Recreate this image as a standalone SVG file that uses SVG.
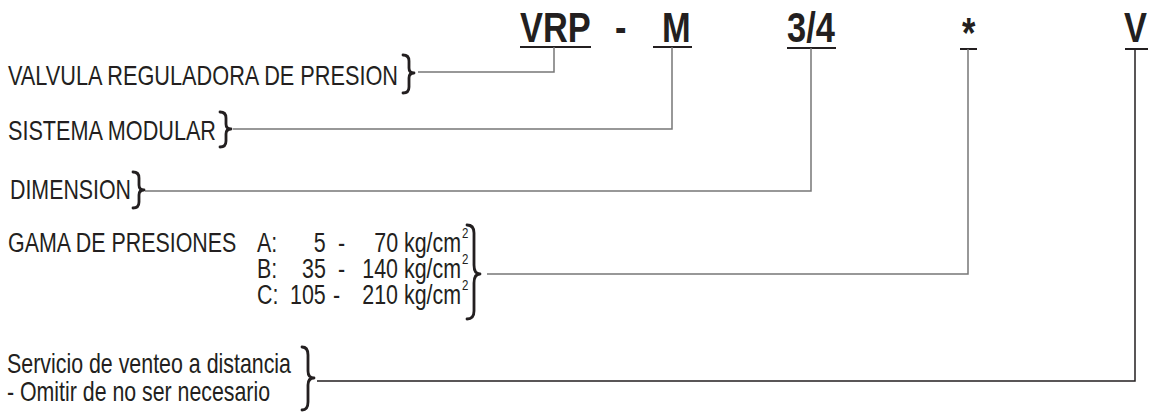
<svg xmlns="http://www.w3.org/2000/svg" width="1150" height="412" viewBox="0 0 1150 412">
<style>
.code{font-family:"Liberation Sans",Arial,sans-serif;font-weight:bold;font-size:43px;fill:#231f20}
.lbl{font-family:"Liberation Sans",Arial,sans-serif;font-size:28px;fill:#231f20}
.sup{font-size:15px}
.ul{stroke:#231f20;stroke-width:2;fill:none}
.brace{stroke:#231f20;stroke-width:2.8;fill:none;stroke-linejoin:round;stroke-linecap:round}
.conn{stroke:#777;stroke-width:1.5;fill:none}
.connd{stroke:#231f20;stroke-width:1.5;fill:none}
</style>
<rect width="1150" height="412" fill="#fff"/>
<g id="code">
<g transform="scale(0.8,1)">
<text class="code" y="42"><tspan x="650">VRP</tspan><tspan x="768.8">-</tspan><tspan x="827.5">M</tspan><tspan x="983.8">3/4</tspan></text>
<text class="code" x="1202.5" y="47">*</text>
<text class="code" x="1405" y="42">V</text>
</g>
<path class="ul" d="M520 47H591M653 47H692M787 48H836M960 49H977M1125 49H1148"/>
</g>
<g id="connectors">
<path class="conn" d="M418 72H554V47"/>
<path class="conn" d="M233 129H672V47"/>
<path class="conn" d="M145 191H811V48"/>
<path class="conn" d="M487 274H968V49"/>
<path class="connd" d="M317 381H1135V49"/>
</g>
<g id="n-valvula">
<text class="lbl" x="8" y="85" textLength="390" lengthAdjust="spacingAndGlyphs">VALVULA REGULADORA DE PRESION</text>
<path class="brace" d="M403 55Q409 55 409 61V68Q409 73 414 73Q409 73 409 78V87Q409 93 403 93"/>
</g>
<g id="n-sistema">
<text class="lbl" x="8" y="140" textLength="208" lengthAdjust="spacingAndGlyphs">SISTEMA MODULAR</text>
<path class="brace" d="M220 112Q226 112 226 118V124Q226 129 231 129Q226 129 226 134V141Q226 147 220 147"/>
</g>
<g id="n-dimension">
<text class="lbl" x="10" y="199" textLength="121" lengthAdjust="spacingAndGlyphs">DIMENSION</text>
<path class="brace" d="M133 172Q139 172 139 178V185Q139 190 144 190Q139 190 139 195V202Q139 208 133 208"/>
</g>
<g id="n-gama">
<g transform="scale(0.765,1)">
<text class="lbl" y="252"><tspan x="10.5">GAMA DE PRESIONES</tspan><tspan x="335.9">A:</tspan><tspan x="410.2">5</tspan><tspan x="441.8">-</tspan><tspan x="489.2">70</tspan><tspan x="528.1">kg/cm</tspan><tspan class="sup" x="603.9" dy="-14">2</tspan></text>
<text class="lbl" y="278"><tspan x="335.9">B:</tspan><tspan x="394.8">35</tspan><tspan x="441.8">-</tspan><tspan x="473.6">140</tspan><tspan x="528.1">kg/cm</tspan><tspan class="sup" x="603.9" dy="-14">2</tspan></text>
<text class="lbl" y="304"><tspan x="335.9">C:</tspan><tspan x="379.1">105</tspan><tspan x="435.3">-</tspan><tspan x="473.6">210</tspan><tspan x="528.1">kg/cm</tspan><tspan class="sup" x="603.9" dy="-14">2</tspan></text>
</g>
<path class="brace" d="M467 225Q474 225 474 233V265Q474 274 480 274Q474 274 474 283V311Q474 319 467 319"/>
</g>
<g id="n-servicio">
<text class="lbl" x="7" y="373" textLength="284" lengthAdjust="spacingAndGlyphs">Servicio de venteo a distancia</text>
<text class="lbl" x="7" y="401" textLength="263" lengthAdjust="spacingAndGlyphs">- Omitir de no ser necesario</text>
<path class="brace" d="M302 347Q308 347 308 355V371Q308 378 314 378Q308 378 308 385V402Q308 410 302 410"/>
</g>
</svg>
